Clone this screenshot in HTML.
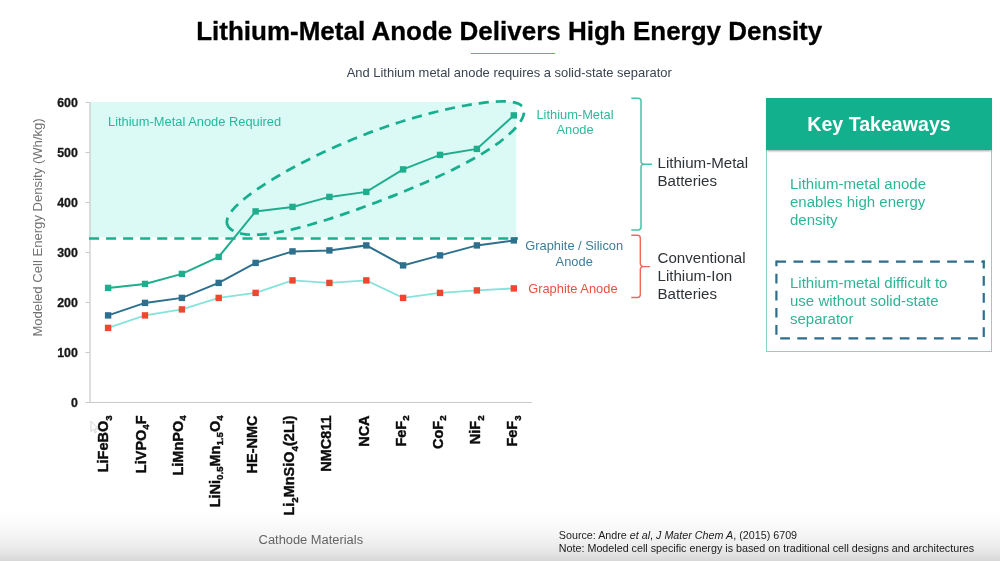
<!DOCTYPE html>
<html lang="en"><head><meta charset="utf-8"><title>Lithium-Metal Anode Delivers High Energy Density</title>
<style>
html,body{margin:0;padding:0;background:#fff;}
body{width:1000px;height:561px;overflow:hidden;position:relative;font-family:"Liberation Sans",Arial,sans-serif;}
.slide{position:absolute;left:0;top:0;width:1000px;height:561px;background:#fff;overflow:hidden;}
.content{position:absolute;left:0;top:0;width:1000px;height:561px;filter:blur(0.45px);}
.shade{position:absolute;left:0;right:0;bottom:0;height:52px;background:linear-gradient(to bottom,rgba(0,0,0,0) 0%,rgba(0,0,0,.01) 21%,rgba(0,0,0,.035) 46%,rgba(0,0,0,.066) 67%,rgba(0,0,0,.108) 87%,rgba(0,0,0,.155) 100%);}
h1{position:absolute;left:196.2px;top:15.99px;margin:0;font-size:26px;line-height:30px;font-weight:bold;color:#000;-webkit-text-stroke:.3px #000;letter-spacing:0;white-space:nowrap;}
.rule{position:absolute;left:471px;top:53.3px;width:83.5px;height:1.2px;background:#e8705f;}
.sub{position:absolute;left:346.7px;top:64.82px;font-size:12.94px;line-height:16px;color:#3a4450;white-space:nowrap;}
svg{position:absolute;left:0;top:0;}
.yt{font:bold 12.35px "Liberation Sans",Arial,sans-serif;fill:#161616;stroke:#161616;stroke-width:.3px;}
.xl{font:bold 14.5px "Liberation Sans",Arial,sans-serif;fill:#0c0c0c;stroke:#0c0c0c;stroke-width:.4px;}
.sb{font-size:9.7px;}
.lab{position:absolute;font-size:12.87px;line-height:15.4px;text-align:center;white-space:nowrap;}
.grp{position:absolute;left:657.5px;font-size:15.1px;line-height:18.2px;color:#2e3338;white-space:nowrap;}
.kt{position:absolute;left:766px;top:98px;width:226px;height:253.8px;box-sizing:border-box;border:1px solid #8ad2c2;background:#fff;}
.kt .hd{position:absolute;left:-1px;top:-1px;width:226px;height:52px;background:#13b08e;color:#fff;font-weight:bold;font-size:19.6px;line-height:52px;text-align:center;box-shadow:0 2px 2px -1px rgba(0,0,0,.38);}
.kt p{position:absolute;left:23px;margin:0;font-size:15.03px;line-height:18px;color:#2fb596;white-space:nowrap;}
.xt{position:absolute;left:258.6px;top:532.33px;font-size:12.89px;line-height:16px;color:#6a6a6a;white-space:nowrap;}
.src{position:absolute;left:558.8px;top:529.08px;font-size:10.74px;line-height:13.2px;color:#1c1c1c;white-space:nowrap;}
</style></head><body>
<div class="slide">
<div class="content">
<h1>Lithium-Metal Anode Delivers High Energy Density</h1>
<div class="rule"></div>
<div class="sub">And Lithium metal anode requires a solid-state separator</div>

<svg width="1000" height="561" viewBox="0 0 1000 561">
<rect x="90" y="102" width="426.3" height="135.2" fill="#dbfaf6"/>
<line x1="90" x2="90" y1="102" y2="402.5" stroke="#c9c9c9" stroke-width="1.2"/>
<line x1="86" x2="532" y1="402.5" y2="402.5" stroke="#c9c9c9" stroke-width="1.2"/>
<text class="yt" x="77.8" y="406.8" text-anchor="end">0</text><line x1="85.5" x2="90" y1="402.5" y2="402.5" stroke="#c9c9c9" stroke-width="1"/><text class="yt" x="77.8" y="356.8" text-anchor="end">100</text><line x1="85.5" x2="90" y1="352.5" y2="352.5" stroke="#c9c9c9" stroke-width="1"/><text class="yt" x="77.8" y="306.8" text-anchor="end">200</text><line x1="85.5" x2="90" y1="302.5" y2="302.5" stroke="#c9c9c9" stroke-width="1"/><text class="yt" x="77.8" y="256.8" text-anchor="end">300</text><line x1="85.5" x2="90" y1="252.5" y2="252.5" stroke="#c9c9c9" stroke-width="1"/><text class="yt" x="77.8" y="206.8" text-anchor="end">400</text><line x1="85.5" x2="90" y1="202.5" y2="202.5" stroke="#c9c9c9" stroke-width="1"/><text class="yt" x="77.8" y="156.8" text-anchor="end">500</text><line x1="85.5" x2="90" y1="152.5" y2="152.5" stroke="#c9c9c9" stroke-width="1"/><text class="yt" x="77.8" y="106.8" text-anchor="end">600</text><line x1="85.5" x2="90" y1="102.5" y2="102.5" stroke="#c9c9c9" stroke-width="1"/>
<text x="108" y="126" style="font:12.89px 'Liberation Sans',Arial,sans-serif" fill="#27b89c">Lithium-Metal Anode Required</text>
<line x1="89" x2="518" y1="238.5" y2="238.5" stroke="#19ae8f" stroke-width="2.6" stroke-dasharray="10.1 6.95"/>
<path d="M227.7,217.7C227.4,218.6 227.1,219.5 227.0,220.3C226.9,221.1 226.8,221.9 226.9,222.7C227.0,223.4 227.1,224.1 227.4,224.8C227.6,225.4 228.0,226.1 228.4,226.7C228.8,227.3 229.3,227.8 229.8,228.4C230.4,228.9 231.0,229.4 231.7,229.9C232.4,230.3 233.2,230.8 234.0,231.2C234.9,231.6 235.8,232.0 236.7,232.3C237.7,232.6 238.8,233.0 239.9,233.2C241.0,233.5 242.2,233.8 243.5,234.0C244.8,234.2 246.1,234.3 247.6,234.5C249.0,234.6 250.6,234.7 252.2,234.7C253.9,234.7 255.6,234.7 257.4,234.6C259.3,234.6 261.2,234.5 263.3,234.3C265.3,234.1 267.4,233.9 269.7,233.6C271.9,233.3 274.3,232.9 276.7,232.5C279.1,232.1 281.7,231.6 284.3,231.1C286.9,230.5 289.6,229.9 292.4,229.3C295.2,228.6 298.0,227.9 300.9,227.2C303.9,226.4 306.8,225.6 309.9,224.8C312.9,223.9 315.9,223.0 319.0,222.1C322.1,221.2 325.3,220.2 328.4,219.2C331.6,218.2 334.8,217.1 338.0,216.1C341.2,215.0 344.4,213.9 347.6,212.8C350.8,211.7 354.0,210.5 357.3,209.4C360.5,208.2 363.7,207.0 367.0,205.8C370.2,204.6 373.5,203.4 376.7,202.2C380.0,201.0 383.3,199.7 386.5,198.4C389.8,197.2 393.1,195.9 396.4,194.6C399.6,193.2 402.9,191.9 406.2,190.6C409.5,189.2 412.8,187.8 416.1,186.4C419.4,185.0 422.7,183.6 426.0,182.2C429.2,180.7 432.5,179.3 435.7,177.8C438.9,176.3 442.2,174.8 445.3,173.3C448.5,171.8 451.6,170.3 454.6,168.7C457.7,167.2 460.7,165.7 463.6,164.1C466.5,162.6 469.4,161.0 472.1,159.5C474.9,158.0 477.5,156.4 480.1,154.9C482.6,153.4 485.1,151.9 487.4,150.4C489.7,148.9 492.0,147.4 494.0,146.0C496.1,144.6 498.1,143.1 500.0,141.8C501.8,140.4 503.5,139.0 505.1,137.7C506.8,136.4 508.2,135.1 509.6,133.8C511.0,132.6 512.2,131.4 513.4,130.2C514.6,129.0 515.6,127.9 516.6,126.7C517.5,125.6 518.4,124.5 519.1,123.5C519.9,122.5 520.5,121.4 521.1,120.5C521.7,119.5 522.2,118.5 522.6,117.6C523.0,116.7 523.3,115.8 523.5,115.0C523.8,114.1 523.9,113.3 524.0,112.5C524.1,111.7 524.1,111.0 523.9,110.3C523.8,109.6 523.6,108.9 523.3,108.2C523.0,107.6 522.7,107.0 522.2,106.4C521.7,105.9 521.1,105.4 520.4,104.9C519.7,104.4 519.0,104.0 518.1,103.6C517.2,103.2 516.2,102.9 515.1,102.6C514.0,102.3 512.8,102.1 511.5,101.9C510.3,101.7 508.9,101.6 507.4,101.5C505.9,101.4 504.4,101.3 502.7,101.3C501.1,101.3 499.3,101.4 497.5,101.5C495.7,101.5 493.8,101.7 491.9,101.8C489.9,102.0 487.9,102.2 485.8,102.4C483.7,102.7 481.6,103.0 479.4,103.3C477.2,103.6 475.0,103.9 472.7,104.3C470.3,104.7 468.0,105.1 465.6,105.5C463.2,105.9 460.7,106.4 458.2,106.9C455.6,107.4 453.1,107.9 450.4,108.5C447.8,109.1 445.1,109.7 442.3,110.3C439.6,111.0 436.8,111.6 433.9,112.4C431.0,113.1 428.1,113.8 425.1,114.6C422.1,115.5 419.1,116.3 415.9,117.2C412.8,118.1 409.7,119.0 406.4,120.0C403.2,121.0 399.9,122.0 396.6,123.1C393.3,124.2 389.9,125.3 386.5,126.5C383.1,127.7 379.7,128.9 376.3,130.2C372.8,131.4 369.3,132.7 365.9,134.1C362.4,135.4 358.9,136.8 355.5,138.2C352.0,139.6 348.5,141.1 345.1,142.5C341.7,144.0 338.2,145.5 334.9,147.0C331.5,148.5 328.2,150.0 324.9,151.6C321.6,153.1 318.3,154.7 315.2,156.2C312.0,157.8 308.8,159.4 305.8,160.9C302.7,162.5 299.7,164.1 296.7,165.6C293.8,167.2 290.9,168.8 288.1,170.3C285.3,171.9 282.6,173.4 280.0,175.0C277.3,176.5 274.7,178.1 272.2,179.6C269.7,181.1 267.3,182.6 265.0,184.1C262.7,185.6 260.4,187.1 258.3,188.5C256.2,190.0 254.1,191.4 252.2,192.8C250.2,194.2 248.4,195.6 246.6,197.0C244.9,198.3 243.2,199.7 241.7,201.0C240.2,202.3 238.8,203.5 237.5,204.8C236.2,206.0 235.0,207.2 234.0,208.4C232.9,209.5 232.0,210.6 231.2,211.7C230.4,212.8 229.7,213.8 229.1,214.8C228.5,215.8 228.1,216.8 227.7,217.7Z" fill="none" stroke="#17ae8e" stroke-width="2.75" stroke-dasharray="16 7 10.1 7 10.1 7 10.1 7 10.1 7 10.1 7 10.1 7 10.1 7 10.1 7 10.1 7 10.1 7 10.1 7 10.1 7 10.1 7 10.1 7 10.1 7 10.1 7 10.1 7 10.1 7 10.1 7 10.1 7 10.1 7 10.1 7 10.1 7 10.1 7 10.1 7 10.1 7 10.1 7 10.1 7 10.1 7 10.1 7 10.1 7 10.1 7 10.1 7 10.1 7 10.1 7 10.1 7 10.1 7 10.1 7"/>
<polyline points="108.1,327.9 145.0,315.4 181.9,309.4 218.7,297.9 255.6,292.9 292.5,280.4 329.4,282.9 366.3,280.4 403.1,297.9 440.0,292.9 476.9,290.4 513.8,288.4" fill="none" stroke="#86e3dc" stroke-width="1.8"/>
<rect x="104.9" y="324.7" width="6.4" height="6.4" fill="#f0452e"/><rect x="141.8" y="312.2" width="6.4" height="6.4" fill="#f0452e"/><rect x="178.7" y="306.2" width="6.4" height="6.4" fill="#f0452e"/><rect x="215.5" y="294.7" width="6.4" height="6.4" fill="#f0452e"/><rect x="252.4" y="289.7" width="6.4" height="6.4" fill="#f0452e"/><rect x="289.3" y="277.2" width="6.4" height="6.4" fill="#f0452e"/><rect x="326.2" y="279.7" width="6.4" height="6.4" fill="#f0452e"/><rect x="363.1" y="277.2" width="6.4" height="6.4" fill="#f0452e"/><rect x="399.9" y="294.7" width="6.4" height="6.4" fill="#f0452e"/><rect x="436.8" y="289.7" width="6.4" height="6.4" fill="#f0452e"/><rect x="473.7" y="287.2" width="6.4" height="6.4" fill="#f0452e"/><rect x="510.6" y="285.2" width="6.4" height="6.4" fill="#f0452e"/>
<polyline points="108.1,315.4 145.0,302.9 181.9,297.9 218.7,282.9 255.6,262.9 292.5,251.4 329.4,250.4 366.3,245.4 403.1,265.4 440.0,255.4 476.9,245.4 513.8,240.4" fill="none" stroke="#2d6f8c" stroke-width="2"/>
<rect x="104.9" y="312.2" width="6.4" height="6.4" fill="#2d6f8c"/><rect x="141.8" y="299.7" width="6.4" height="6.4" fill="#2d6f8c"/><rect x="178.7" y="294.7" width="6.4" height="6.4" fill="#2d6f8c"/><rect x="215.5" y="279.7" width="6.4" height="6.4" fill="#2d6f8c"/><rect x="252.4" y="259.7" width="6.4" height="6.4" fill="#2d6f8c"/><rect x="289.3" y="248.2" width="6.4" height="6.4" fill="#2d6f8c"/><rect x="326.2" y="247.2" width="6.4" height="6.4" fill="#2d6f8c"/><rect x="363.1" y="242.2" width="6.4" height="6.4" fill="#2d6f8c"/><rect x="399.9" y="262.2" width="6.4" height="6.4" fill="#2d6f8c"/><rect x="436.8" y="252.2" width="6.4" height="6.4" fill="#2d6f8c"/><rect x="473.7" y="242.2" width="6.4" height="6.4" fill="#2d6f8c"/><rect x="510.6" y="237.2" width="6.4" height="6.4" fill="#2d6f8c"/>
<polyline points="108.1,287.9 145.0,283.9 181.9,273.9 218.7,256.9 255.6,211.4 292.5,206.9 329.4,196.9 366.3,191.9 403.1,169.4 440.0,154.9 476.9,148.9 513.8,115.4" fill="none" stroke="#1fae8d" stroke-width="2"/>
<rect x="104.9" y="284.7" width="6.4" height="6.4" fill="#1fae8d"/><rect x="141.8" y="280.7" width="6.4" height="6.4" fill="#1fae8d"/><rect x="178.7" y="270.7" width="6.4" height="6.4" fill="#1fae8d"/><rect x="215.5" y="253.7" width="6.4" height="6.4" fill="#1fae8d"/><rect x="252.4" y="208.2" width="6.4" height="6.4" fill="#1fae8d"/><rect x="289.3" y="203.7" width="6.4" height="6.4" fill="#1fae8d"/><rect x="326.2" y="193.7" width="6.4" height="6.4" fill="#1fae8d"/><rect x="363.1" y="188.7" width="6.4" height="6.4" fill="#1fae8d"/><rect x="399.9" y="166.2" width="6.4" height="6.4" fill="#1fae8d"/><rect x="436.8" y="151.7" width="6.4" height="6.4" fill="#1fae8d"/><rect x="473.7" y="145.7" width="6.4" height="6.4" fill="#1fae8d"/><rect x="510.6" y="112.2" width="6.4" height="6.4" fill="#1fae8d"/>
<text class="xl" text-anchor="end" transform="translate(108.3,415.4) rotate(-90)">LiFeBO<tspan class='sb' dy='3.6'>3</tspan></text><text class="xl" text-anchor="end" transform="translate(145.5,415.4) rotate(-90)">LiVPO<tspan class='sb' dy='3.6'>4</tspan><tspan dy='-3.6'>F</tspan></text><text class="xl" text-anchor="end" transform="translate(182.6,415.4) rotate(-90)">LiMnPO<tspan class='sb' dy='3.6'>4</tspan></text><text class="xl" text-anchor="end" transform="translate(219.8,415.4) rotate(-90)">LiNi<tspan class='sb' dy='3.6'>0.5</tspan><tspan dy='-3.6'>Mn</tspan><tspan class='sb' dy='3.6'>1.5</tspan><tspan dy='-3.6'>O</tspan><tspan class='sb' dy='3.6'>4</tspan></text><text class="xl" text-anchor="end" transform="translate(257.0,415.4) rotate(-90)">HE-NMC</text><text class="xl" text-anchor="end" transform="translate(294.2,415.4) rotate(-90)">Li<tspan class='sb' dy='3.6'>2</tspan><tspan dy='-3.6'>MnSiO</tspan><tspan class='sb' dy='3.6'>4</tspan><tspan dy='-3.6'>(2Li)</tspan></text><text class="xl" text-anchor="end" transform="translate(331.3,415.4) rotate(-90)">NMC811</text><text class="xl" text-anchor="end" transform="translate(368.5,415.4) rotate(-90)">NCA</text><text class="xl" text-anchor="end" transform="translate(405.7,415.4) rotate(-90)">FeF<tspan class='sb' dy='3.6'>2</tspan></text><text class="xl" text-anchor="end" transform="translate(442.8,415.4) rotate(-90)">CoF<tspan class='sb' dy='3.6'>2</tspan></text><text class="xl" text-anchor="end" transform="translate(480.0,415.4) rotate(-90)">NiF<tspan class='sb' dy='3.6'>2</tspan></text><text class="xl" text-anchor="end" transform="translate(517.2,415.4) rotate(-90)">FeF<tspan class='sb' dy='3.6'>3</tspan></text>
<text transform="translate(41.7,336.6) rotate(-90)" style="font:13.1px 'Liberation Sans',Arial,sans-serif" fill="#737373">Modeled Cell Energy Density (Wh/kg)</text>
<path d="M91,421.2 L91,431.6 L93.4,429.4 L95,432.8 L96.4,432.2 L94.9,428.9 L98,428.7 Z" fill="#fff" stroke="#c6c6c6" stroke-width="0.7" stroke-linejoin="round"/>
<!-- brackets -->
<path d="M631.3,98.3 H638.2 Q641,98.3 641,101.2 V161.3 Q641,164.3 644.5,164.3 H651.5 H644.5 Q641,164.3 641,167.3 V227 Q641,229.9 638.2,229.9 H631.3" fill="none" stroke="#45c3a9" stroke-width="1.5" stroke-linejoin="round"/>
<path d="M631.3,235.3 H637.5 Q640.3,235.3 640.3,238.2 V263.6 Q640.3,266.6 643.5,266.6 H649.5 H643.5 Q640.3,266.6 640.3,269.6 V294.6 Q640.3,297.5 637.5,297.5 H631.3" fill="none" stroke="#ee6a58" stroke-width="1.4" stroke-linejoin="round"/>
</svg>

<div class="lab" style="left:525px;width:100px;top:106.74px;color:#2fb89c">Lithium-Metal<br>Anode</div>
<div class="lab" style="left:524.2px;width:100px;top:238.44px;color:#3f7d98">Graphite / Silicon<br>Anode</div>
<div class="lab" style="left:528.2px;top:280.84px;color:#e5533f;text-align:left">Graphite Anode</div>
<div class="grp" style="top:153.97px">Lithium-Metal<br>Batteries</div>
<div class="grp" style="top:248.87px">Conventional<br>Lithium-Ion<br>Batteries</div>

<div class="kt"><div class="hd">Key Takeaways</div>
<p style="top:75.79px">Lithium-metal anode<br>enables high energy<br>density</p>
<p style="top:175.29px">Lithium-metal difficult to<br>use without solid-state<br>separator</p>
</div>
<svg width="1000" height="561" viewBox="0 0 1000 561"><g fill="none" stroke="#2f6d8b" stroke-width="2.2">
<path d="M776.4,261.6 H984.85" stroke-dasharray="9.7 7.38"/>
<path d="M780.2,338.4 H984" stroke-dasharray="9.7 7.38"/>
<path d="M776.4,260.5 V338" stroke-dasharray="9.7 7.4" stroke-dashoffset="3.9"/>
<path d="M983.75,260.5 V338.4" stroke-dasharray="9.7 7.4" stroke-dashoffset="1.6"/>
</g></svg>

<div class="xt">Cathode Materials</div>
<div class="src">Source: Andre <i>et al</i>, <i>J Mater Chem A</i>, (2015) 6709<br>Note: Modeled cell specific energy is based on traditional cell designs and architectures</div>
</div>
<div class="shade"></div>
</div>
</body></html>
